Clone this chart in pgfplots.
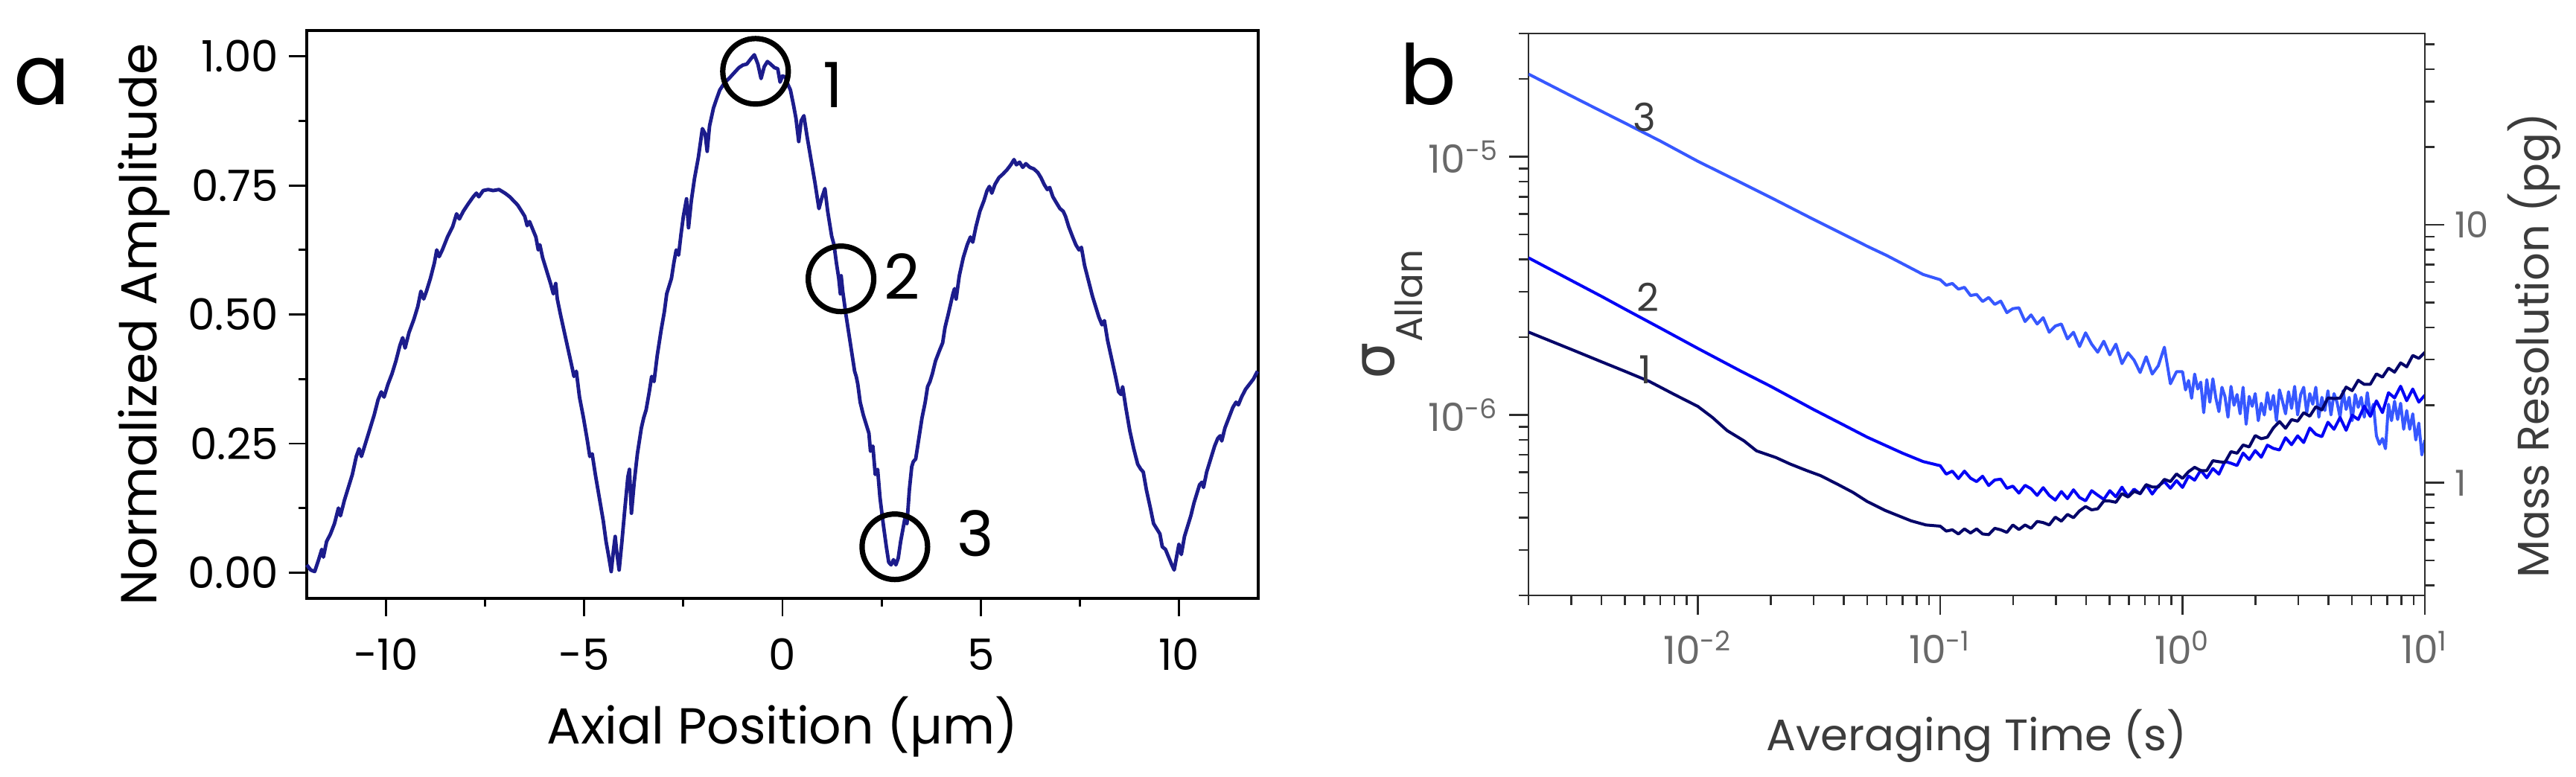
\documentclass[border=0pt]{standalone}
\usepackage{fontspec}
\setmainfont{Poppins}
\newfontfamily\symfont{DejaVu Sans}
\usepackage{pgfplots}
\pgfplotsset{compat=1.18}
\definecolor{curveA}{RGB}{28,28,140}
\definecolor{lineone}{RGB}{5,5,105}
\definecolor{linetwo}{RGB}{5,5,245}
\definecolor{linethree}{RGB}{55,88,255}
\definecolor{txtgray}{RGB}{60,60,60}
\definecolor{tickgray}{RGB}{105,105,105}
\definecolor{axgray}{RGB}{45,45,45}
\begin{document}
\begin{tikzpicture}
\path[use as bounding box] (0,0) rectangle (865pt,-260.75pt);
\node[anchor=base, font=\fontsize{28}{28}\selectfont] at (14pt,-35pt) {a};
\node[anchor=base, font=\fontsize{28}{28}\selectfont] at (479.5pt,-35pt) {b};
% ---------------- panel a ----------------
\begin{axis}[
  at={(103pt,-201pt)}, anchor=south west,
  scale only axis, width=319.5pt, height=190.75pt,
  xmin=-12, xmax=12, ymin=-0.05, ymax=1.05,
  xtick={-10,-5,0,5,10}, xticklabels={-10,-5,0,5,10},
  minor xtick={-7.5,-2.5,2.5,7.5},
  ytick={0,0.25,0.5,0.75,1}, yticklabels={0.00,0.25,0.50,0.75,1.00},
  minor ytick={0.125,0.375,0.625,0.875},
  tick align=outside, tick pos=left,
  major tick length=6pt, minor tick length=2.8pt,
  axis line style={line width=0.85pt},
  every tick/.style={black, line width=0.7pt},
  tick label style={font=\fontsize{14.5}{15}\selectfont},
  xticklabel style={yshift=-4pt},
  xlabel={Axial Position (µm)},
  ylabel={Normalized Amplitude},
  label style={font=\fontsize{17}{18}\selectfont},
  xlabel style={at={(axis description cs:0.5,-0.2556)}, anchor=base},
  ylabel style={at={(axis description cs:-0.158,0.482)}, anchor=base},
  clip=false,
]
\addplot[curveA, line width=1.2pt, line join=round] coordinates {
(-12.00,0.015)(-11.90,0.005)(-11.80,0.002)(-11.70,0.025)(-11.62,0.045)(-11.58,0.030)(-11.50,0.060)(-11.40,0.075)(-11.30,0.095)(-11.20,0.125)(-11.15,0.110)(-11.05,0.140)(-10.95,0.165)(-10.85,0.190)(-10.75,0.225)(-10.68,0.240)(-10.62,0.225)(-10.50,0.255)(-10.40,0.280)(-10.30,0.305)(-10.20,0.335)(-10.12,0.350)(-10.05,0.340)(-9.95,0.365)(-9.85,0.385)(-9.75,0.410)(-9.65,0.440)(-9.58,0.455)(-9.52,0.435)(-9.42,0.465)(-9.30,0.490)(-9.20,0.515)(-9.12,0.545)(-9.05,0.530)(-8.98,0.545)(-8.88,0.570)(-8.78,0.600)(-8.72,0.625)(-8.66,0.612)(-8.58,0.625)(-8.45,0.650)(-8.32,0.670)(-8.22,0.695)(-8.15,0.685)(-8.05,0.700)(-7.92,0.715)(-7.80,0.728)(-7.72,0.735)(-7.66,0.728)(-7.55,0.740)(-7.42,0.742)(-7.30,0.740)(-7.15,0.742)(-7.00,0.735)(-6.88,0.728)(-6.78,0.720)(-6.68,0.712)(-6.58,0.700)(-6.50,0.690)(-6.44,0.672)(-6.38,0.680)(-6.30,0.665)(-6.22,0.650)(-6.16,0.625)(-6.12,0.635)(-6.05,0.610)(-5.95,0.585)(-5.85,0.560)(-5.78,0.540)(-5.72,0.560)(-5.68,0.530)(-5.60,0.500)(-5.50,0.465)(-5.40,0.430)(-5.30,0.395)(-5.26,0.380)(-5.20,0.390)(-5.12,0.340)(-5.02,0.300)(-4.92,0.255)(-4.86,0.225)(-4.80,0.230)(-4.72,0.190)(-4.62,0.145)(-4.52,0.100)(-4.45,0.060)(-4.38,0.030)(-4.32,0.002)(-4.26,0.045)(-4.22,0.070)(-4.18,0.040)(-4.12,0.005)(-4.05,0.060)(-3.98,0.120)(-3.90,0.185)(-3.86,0.200)(-3.81,0.115)(-3.74,0.175)(-3.66,0.230)(-3.56,0.280)(-3.50,0.300)(-3.44,0.315)(-3.36,0.350)(-3.30,0.380)(-3.24,0.370)(-3.16,0.420)(-3.06,0.470)(-2.98,0.505)(-2.92,0.540)(-2.86,0.555)(-2.80,0.570)(-2.74,0.600)(-2.68,0.625)(-2.62,0.615)(-2.56,0.655)(-2.50,0.690)(-2.42,0.724)(-2.37,0.668)(-2.30,0.720)(-2.22,0.763)(-2.12,0.805)(-2.02,0.860)(-1.95,0.850)(-1.90,0.816)(-1.84,0.865)(-1.74,0.900)(-1.66,0.918)(-1.58,0.935)(-1.45,0.950)(-1.35,0.957)(-1.22,0.968)(-1.10,0.978)(-1.00,0.983)(-0.90,0.985)(-0.80,0.995)(-0.71,1.003)(-0.62,0.985)(-0.54,0.957)(-0.46,0.980)(-0.38,0.990)(-0.30,0.985)(-0.20,0.978)(-0.12,0.976)(-0.06,0.950)(0.00,0.962)(0.07,0.960)(0.14,0.945)(0.20,0.935)(0.28,0.905)(0.34,0.880)(0.41,0.835)(0.47,0.875)(0.54,0.885)(0.62,0.845)(0.72,0.800)(0.82,0.755)(0.92,0.705)(0.99,0.725)(1.07,0.744)(1.14,0.700)(1.24,0.652)(1.30,0.635)(1.36,0.600)(1.42,0.570)(1.46,0.540)(1.48,0.575)(1.52,0.545)(1.60,0.500)(1.68,0.460)(1.76,0.420)(1.82,0.390)(1.86,0.380)(1.90,0.365)(1.96,0.330)(2.04,0.305)(2.12,0.285)(2.18,0.270)(2.22,0.235)(2.28,0.245)(2.34,0.190)(2.40,0.200)(2.46,0.145)(2.54,0.095)(2.62,0.050)(2.68,0.020)(2.74,0.015)(2.80,0.025)(2.86,0.015)(2.92,0.028)(2.98,0.060)(3.04,0.085)(3.10,0.110)(3.14,0.095)(3.20,0.160)(3.26,0.205)(3.30,0.215)(3.36,0.220)(3.44,0.260)(3.52,0.300)(3.60,0.330)(3.66,0.360)(3.72,0.370)(3.78,0.385)(3.86,0.410)(3.96,0.430)(4.04,0.445)(4.10,0.475)(4.18,0.500)(4.24,0.520)(4.30,0.540)(4.34,0.550)(4.38,0.530)(4.46,0.575)(4.56,0.610)(4.66,0.635)(4.74,0.650)(4.80,0.640)(4.88,0.670)(4.98,0.700)(5.08,0.720)(5.16,0.740)(5.22,0.748)(5.28,0.735)(5.36,0.752)(5.46,0.765)(5.56,0.772)(5.66,0.780)(5.76,0.790)(5.84,0.800)(5.90,0.790)(5.98,0.795)(6.06,0.785)(6.14,0.792)(6.24,0.785)(6.34,0.782)(6.44,0.775)(6.52,0.765)(6.60,0.752)(6.68,0.742)(6.74,0.746)(6.82,0.728)(6.92,0.715)(7.00,0.705)(7.08,0.700)(7.14,0.690)(7.22,0.670)(7.32,0.650)(7.40,0.635)(7.48,0.625)(7.54,0.630)(7.62,0.595)(7.72,0.565)(7.82,0.535)(7.90,0.515)(7.98,0.495)(8.06,0.480)(8.12,0.488)(8.20,0.450)(8.30,0.415)(8.40,0.380)(8.48,0.350)(8.54,0.345)(8.58,0.360)(8.66,0.320)(8.76,0.275)(8.86,0.240)(8.96,0.210)(9.04,0.200)(9.10,0.195)(9.18,0.160)(9.28,0.125)(9.36,0.095)(9.44,0.085)(9.52,0.075)(9.58,0.050)(9.66,0.045)(9.74,0.030)(9.82,0.015)(9.88,0.005)(9.94,0.030)(10.00,0.055)(10.06,0.035)(10.14,0.070)(10.22,0.090)(10.30,0.110)(10.38,0.135)(10.46,0.155)(10.52,0.170)(10.58,0.175)(10.62,0.165)(10.70,0.195)(10.80,0.220)(10.90,0.245)(10.98,0.260)(11.04,0.265)(11.08,0.255)(11.16,0.280)(11.26,0.300)(11.36,0.320)(11.44,0.330)(11.50,0.325)(11.58,0.340)(11.68,0.355)(11.78,0.365)(11.88,0.375)(11.98,0.390)
};
\addplot[only marks, mark=o, mark size=11pt, mark options={black, line width=1.8pt}]
  coordinates {(-0.68,0.971) (1.476,0.569) (2.834,0.050)};
\node[font=\fontsize{21}{21}\selectfont] at (axis cs:1.28,0.945) {1};
\node[font=\fontsize{21}{21}\selectfont] at (axis cs:3.02,0.574) {2};
\node[font=\fontsize{21}{21}\selectfont] at (axis cs:4.86,0.076) {3};
\end{axis}
% ---------------- panel b ----------------
\begin{axis}[
  at={(513.25pt,-200pt)}, anchor=south west,
  scale only axis, width=301pt, height=188.75pt,
  xmode=log, ymode=log,
  xmin=0.002, xmax=10, ymin=2e-7, ymax=3e-5,
  xtick={0.01,0.1,1,10},
  xticklabels={10\textsuperscript{-2},10\textsuperscript{-1},10\textsuperscript{0},10\textsuperscript{1}},
  minor xtick={0.002,0.003,0.004,0.005,0.006,0.007,0.008,0.009,0.02,0.03,0.04,0.05,0.06,0.07,0.08,0.09,0.2,0.3,0.4,0.5,0.6,0.7,0.8,0.9,2,3,4,5,6,7,8,9},
  ytick={1e-6,1e-5},
  yticklabels={10\textsuperscript{-6},10\textsuperscript{-5}},
  minor ytick={2e-7,3e-7,4e-7,5e-7,6e-7,7e-7,8e-7,9e-7,2e-6,3e-6,4e-6,5e-6,6e-6,7e-6,8e-6,9e-6,2e-5,3e-5},
  tick align=outside, tick pos=left,
  major tick length=6.5pt, minor tick length=3.2pt,
  axis line style={axgray, line width=0.65pt},
  every tick/.style={axgray, line width=0.6pt},
  tick label style={font=\fontsize{13}{13}\selectfont, text=tickgray},
  xticklabel style={yshift=-2pt},
  xlabel={Averaging Time (s)},
  ylabel={{\fontsize{19.5}{20}\selectfont\symfont σ}\raisebox{-9.5pt}{\fontsize{12.5}{13}\selectfont Allan}},
  label style={font=\fontsize{14.8}{16}\selectfont, text=txtgray},
  xlabel style={at={(axis description cs:0.5,-0.2755)}, anchor=base},
  ylabel style={at={(axis description cs:-0.1503,0.5)}, anchor=base},
  clip=true,
]
\addplot[linethree, line width=1pt, line join=round] coordinates {
(0.002,2.09e-5)(0.003,1.72e-5)(0.004,1.50e-5)(0.005,1.35e-5)(0.007,1.15e-5)(0.01,9.6e-6)(0.013,8.5e-6)(0.017,7.5e-6)(0.02,6.95e-6)(0.03,5.72e-6)(0.04,5.0e-6)(0.05,4.5e-6)(0.06,4.15e-6)(0.07,3.85e-6)(0.085,3.5e-6)
(0.1000,3.34e-6)(0.1059,3.18e-6)(0.1122,3.23e-6)(0.1189,3.07e-6)(0.1259,3.12e-6)(0.1334,2.90e-6)(0.1413,2.93e-6)(0.1496,2.75e-6)(0.1585,2.85e-6)(0.1679,2.68e-6)(0.1778,2.76e-6)(0.1884,2.49e-6)(0.1995,2.58e-6)(0.2113,2.60e-6)(0.2239,2.30e-6)(0.2371,2.44e-6)(0.2512,2.25e-6)(0.2661,2.38e-6)(0.2818,2.09e-6)(0.2985,2.21e-6)(0.3162,2.25e-6)(0.3350,1.97e-6)(0.3548,2.09e-6)(0.3758,1.84e-6)(0.3981,2.08e-6)(0.4217,1.88e-6)(0.4467,1.75e-6)(0.4732,1.93e-6)(0.5012,1.71e-6)(0.5309,1.88e-6)(0.5623,1.58e-6)(0.5957,1.74e-6)(0.6310,1.63e-6)(0.6683,1.46e-6)(0.7079,1.68e-6)(0.7499,1.44e-6)(0.7943,1.55e-6)(0.8414,1.83e-6)(0.8913,1.32e-6)(0.9441,1.47e-6)
(1.000,1.47e-6)(1.029,1.25e-6)(1.059,1.36e-6)(1.090,1.16e-6)(1.122,1.44e-6)(1.155,1.26e-6)(1.189,1.34e-6)(1.223,1.02e-6)(1.259,1.37e-6)(1.296,1.12e-6)(1.334,1.38e-6)(1.373,1.16e-6)(1.413,1.03e-6)(1.454,1.28e-6)(1.496,1.18e-6)(1.540,0.98e-6)(1.585,1.29e-6)(1.631,1.09e-6)(1.679,1.20e-6)(1.728,1.01e-6)(1.778,1.28e-6)(1.830,0.92e-6)(1.884,1.18e-6)(1.939,1.08e-6)(1.995,1.21e-6)(2.054,0.95e-6)(2.113,1.11e-6)(2.175,1.00e-6)(2.239,1.22e-6)(2.304,1.05e-6)(2.371,1.19e-6)(2.441,0.95e-6)(2.512,1.25e-6)(2.585,1.13e-6)(2.661,1.01e-6)(2.738,1.23e-6)(2.818,1.06e-6)(2.901,1.29e-6)(2.985,1.00e-6)(3.073,1.20e-6)(3.162,1.28e-6)(3.255,1.02e-6)(3.350,1.21e-6)(3.447,1.10e-6)(3.548,1.28e-6)(3.652,0.98e-6)(3.758,1.17e-6)(3.868,1.04e-6)(3.981,1.24e-6)(4.097,1.00e-6)(4.217,1.21e-6)(4.340,1.12e-6)(4.467,0.98e-6)(4.597,1.24e-6)(4.732,1.05e-6)(4.870,1.17e-6)(5.012,0.95e-6)(5.158,1.20e-6)(5.309,1.07e-6)(5.464,1.17e-6)(5.623,0.98e-6)(5.788,1.22e-6)(5.957,1.00e-6)(6.131,1.10e-6)(6.310,0.83e-6)(6.494,0.77e-6)(6.683,0.81e-6)(6.879,0.74e-6)(7.079,1.10e-6)(7.286,0.95e-6)(7.499,1.13e-6)(7.718,0.96e-6)(7.943,1.11e-6)(8.175,0.88e-6)(8.414,1.04e-6)(8.660,0.88e-6)(8.913,1.01e-6)(9.173,0.80e-6)(9.441,0.93e-6)(9.716,0.70e-6)(10.0,0.80e-6)
};
\addplot[linetwo, line width=1pt, line join=round] coordinates {
(0.002,4.06e-6)(0.003,3.32e-6)(0.004,2.88e-6)(0.005,2.57e-6)(0.007,2.17e-6)(0.01,1.81e-6)(0.015,1.48e-6)(0.02,1.29e-6)(0.03,1.05e-6)(0.04,0.914e-6)(0.05,0.82e-6)(0.07,0.711e-6)(0.085,0.66e-6)
(0.1000,0.636e-6)(0.1059,0.590e-6)(0.1122,0.606e-6)(0.1189,0.567e-6)(0.1259,0.606e-6)(0.1334,0.569e-6)(0.1413,0.552e-6)(0.1496,0.579e-6)(0.1585,0.533e-6)(0.1679,0.560e-6)(0.1778,0.564e-6)(0.1884,0.520e-6)(0.1995,0.530e-6)(0.2113,0.498e-6)(0.2239,0.534e-6)(0.2371,0.518e-6)(0.2512,0.488e-6)(0.2661,0.523e-6)(0.2818,0.488e-6)(0.2985,0.468e-6)(0.3162,0.505e-6)(0.3350,0.474e-6)(0.3548,0.513e-6)(0.3758,0.479e-6)(0.3981,0.465e-6)(0.4217,0.509e-6)(0.4467,0.489e-6)(0.4732,0.471e-6)(0.5012,0.509e-6)(0.5309,0.482e-6)(0.5623,0.525e-6)(0.5957,0.483e-6)(0.6310,0.516e-6)(0.6683,0.495e-6)(0.7079,0.536e-6)(0.7499,0.494e-6)(0.7943,0.531e-6)(0.8414,0.552e-6)(0.8913,0.520e-6)(0.9441,0.557e-6)
(1.000,0.524e-6)(1.059,0.580e-6)(1.122,0.559e-6)(1.189,0.611e-6)(1.259,0.571e-6)(1.334,0.620e-6)(1.413,0.590e-6)(1.496,0.661e-6)(1.585,0.650e-6)(1.679,0.637e-6)(1.778,0.712e-6)(1.884,0.672e-6)(1.995,0.728e-6)(2.113,0.686e-6)(2.239,0.764e-6)(2.371,0.742e-6)(2.512,0.732e-6)(2.661,0.816e-6)(2.818,0.767e-6)(2.985,0.830e-6)(3.162,0.782e-6)(3.350,0.890e-6)(3.548,0.841e-6)(3.758,0.824e-6)(3.981,0.937e-6)(4.217,0.880e-6)(4.467,0.977e-6)(4.732,0.872e-6)(5.012,0.998e-6)(5.309,0.960e-6)(5.623,1.081e-6)(5.957,0.987e-6)(6.310,1.134e-6)(6.683,1.021e-6)(7.079,1.219e-6)(7.499,1.164e-6)(7.943,1.292e-6)(8.414,1.135e-6)(8.913,1.260e-6)(9.441,1.121e-6)(10.0,1.193e-6)
};
\addplot[lineone, line width=1pt, line join=round] coordinates {
(0.002,2.094e-6)(0.003,1.795e-6)(0.004,1.607e-6)(0.005,1.476e-6)(0.0063,1.349e-6)(0.008,1.20e-6)(0.01,1.079e-6)(0.0115,0.977e-6)(0.0132,0.87e-6)(0.0155,0.794e-6)(0.01746,0.726e-6)(0.021,0.684e-6)(0.024,0.646e-6)(0.028,0.61e-6)(0.0321,0.582e-6)(0.038,0.537e-6)(0.0437,0.501e-6)(0.05,0.462e-6)(0.0592,0.427e-6)(0.0759,0.389e-6)(0.0873,0.375e-6)
(0.1000,0.371e-6)(0.1059,0.355e-6)(0.1122,0.359e-6)(0.1189,0.346e-6)(0.1259,0.362e-6)(0.1334,0.349e-6)(0.1413,0.362e-6)(0.1496,0.346e-6)(0.1585,0.344e-6)(0.1679,0.364e-6)(0.1778,0.359e-6)(0.1884,0.351e-6)(0.1995,0.375e-6)(0.2113,0.360e-6)(0.2239,0.375e-6)(0.2371,0.364e-6)(0.2512,0.387e-6)(0.2661,0.383e-6)(0.2818,0.375e-6)(0.2985,0.402e-6)(0.3162,0.388e-6)(0.3350,0.412e-6)(0.3548,0.400e-6)(0.3758,0.425e-6)(0.3981,0.442e-6)(0.4217,0.429e-6)(0.4467,0.433e-6)(0.4732,0.464e-6)(0.5012,0.464e-6)(0.5309,0.459e-6)(0.5623,0.496e-6)(0.5957,0.481e-6)(0.6310,0.506e-6)(0.6683,0.496e-6)(0.7079,0.537e-6)(0.7499,0.526e-6)(0.7943,0.526e-6)(0.8414,0.563e-6)(0.8913,0.552e-6)(0.9441,0.591e-6)
(1.000,0.568e-6)(1.059,0.603e-6)(1.122,0.627e-6)(1.189,0.609e-6)(1.259,0.609e-6)(1.334,0.665e-6)(1.413,0.659e-6)(1.496,0.655e-6)(1.585,0.721e-6)(1.679,0.711e-6)(1.778,0.765e-6)(1.884,0.752e-6)(1.995,0.832e-6)(2.113,0.809e-6)(2.239,0.820e-6)(2.371,0.891e-6)(2.512,0.943e-6)(2.661,0.888e-6)(2.818,0.959e-6)(2.985,0.946e-6)(3.162,1.020e-6)(3.350,0.989e-6)(3.548,1.076e-6)(3.758,1.046e-6)(3.981,1.164e-6)(4.217,1.158e-6)(4.467,1.162e-6)(4.732,1.282e-6)(5.012,1.242e-6)(5.309,1.362e-6)(5.623,1.313e-6)(5.957,1.315e-6)(6.310,1.442e-6)(6.683,1.401e-6)(7.079,1.518e-6)(7.499,1.465e-6)(7.943,1.591e-6)(8.414,1.536e-6)(8.913,1.700e-6)(9.441,1.656e-6)(10.0,1.747e-6)
};
\node[font=\fontsize{13}{13}\selectfont, text=txtgray] at (axis cs:0.00607,1.50e-6) {1};
\node[font=\fontsize{13}{13}\selectfont, text=txtgray] at (axis cs:0.00624,2.86e-6) {2};
\node[font=\fontsize{13}{13}\selectfont, text=txtgray] at (axis cs:0.00603,1.42e-5) {3};
\end{axis}
% right axis of panel b
\begin{axis}[
  at={(513.25pt,-200pt)}, anchor=south west,
  scale only axis, width=301pt, height=188.75pt,
  xmode=log, ymode=log,
  xmin=0.002, xmax=10, ymin=0.366, ymax=55.1,
  axis y line*=right, axis x line=none,
  ytick={1,10}, yticklabels={1,10},
  minor ytick={0.4,0.5,0.6,0.7,0.8,0.9,2,3,4,5,6,7,8,9,20,30,40,50},
  tick align=outside,
  major tick length=6.5pt, minor tick length=3.2pt,
  axis line style={axgray, line width=0.65pt},
  every tick/.style={axgray, line width=0.6pt},
  tick label style={font=\fontsize{12}{12}\selectfont, text=tickgray},
  ylabel={Mass Resolution (pg)},
  label style={font=\fontsize{14.8}{16}\selectfont, text=txtgray},
  ylabel style={at={(axis description cs:1.138,0.445)}, anchor=base},
]
\end{axis}
\end{tikzpicture}
\end{document}
